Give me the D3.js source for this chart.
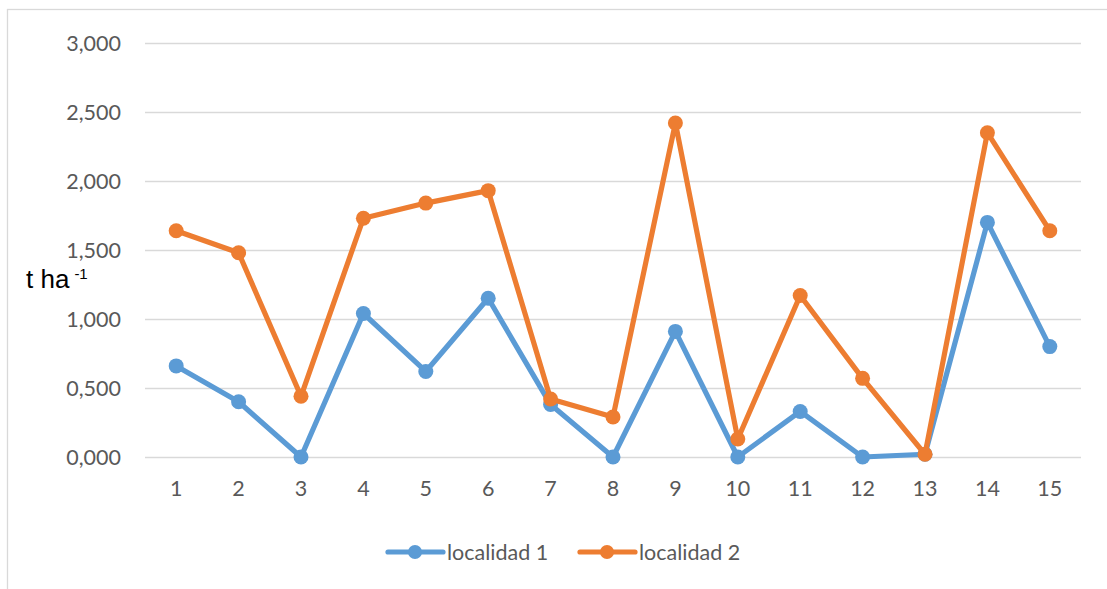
<!DOCTYPE html>
<html>
<head>
<meta charset="utf-8">
<script src="https://cdn.jsdelivr.net/npm/d3@7"></script>
<style>
  html, body { margin: 0; padding: 0; background: #fff; }
  svg { display: block; }
</style>
</head>
<body>
<svg id="chart" width="1107" height="589"></svg>
<script>
// Yield per treatment (t ha-1) at two locations
const categories = ["1","2","3","4","5","6","7","8","9","10","11","12","13","14","15"];
const localidad1 = [0.66, 0.40, 0.00, 1.04, 0.62, 1.15, 0.38, 0.00, 0.91, 0.00, 0.33, 0.00, 0.02, 1.70, 0.80];
const localidad2 = [1.64, 1.48, 0.44, 1.73, 1.84, 1.93, 0.42, 0.29, 2.42, 0.13, 1.17, 0.57, 0.02, 2.35, 1.64];
const yTicks = [0, 0.5, 1, 1.5, 2, 2.5, 3];
const seriesNames = ["localidad 1", "localidad 2"];
const seriesColors = ["#5B9BD5", "#ED7D31"];

const svg = d3.select("#chart");
const W = 1107, H = 589;
const plot = { left: 145, right: 1081, top: 43, bottom: 457 };
const labelFont = "Lato, 'Open Sans', sans-serif";
const labelSize = "21.5px";
const textGray = "#595959";

// chart area frame
svg.append("rect")
  .attr("x", 7.5).attr("y", 9.5)
  .attr("width", W + 10).attr("height", H + 10)
  .attr("fill", "#fff").attr("stroke", "#d9d9d9").attr("stroke-width", 1.3);

const x = d3.scaleBand().domain(categories).range([plot.left, plot.right]);
const y = d3.scaleLinear().domain([0, 3]).range([plot.bottom, plot.top]);
const cx = d => x(d) + x.bandwidth() / 2;

const fmt = v => d3.format(".3f")(v).replace(".", ",");

// horizontal gridlines and y tick labels
const yAxis = d3.axisLeft(y).tickValues(yTicks).tickFormat(fmt)
  .tickSize(-(plot.right - plot.left)).tickPadding(24);
const gy = svg.append("g").attr("transform", `translate(${plot.left},0)`).call(yAxis);
gy.select(".domain").remove();
gy.selectAll(".tick line").attr("stroke", "#d9d9d9").attr("stroke-width", 1.3);
gy.selectAll(".tick text")
  .attr("fill", textGray).style("font-family", labelFont).style("font-size", labelSize)
  .attr("dy", "0.35em");

// x category labels
const xAxis = d3.axisBottom(x).tickSize(0).tickPadding(24);
const gx = svg.append("g").attr("transform", `translate(0,${plot.bottom})`).call(xAxis);
gx.select(".domain").remove();
gx.selectAll(".tick text")
  .attr("fill", textGray).style("font-family", labelFont).style("font-size", labelSize);

// y axis title
const yt = svg.append("text")
  .attr("x", 26).attr("y", 288)
  .attr("fill", "#000")
  .style("font-family", "'Liberation Sans', Arial, sans-serif")
  .style("font-size", "26px");
yt.append("tspan").text("t ha");
yt.append("tspan").attr("dx", 5).attr("dy", -9).style("font-size", "15px").text("-1");

// series lines with markers
const seriesData = [localidad1, localidad2];
const line = d3.line().x((d, i) => cx(categories[i])).y(d => y(d));
seriesData.forEach((vals, s) => {
  const g = svg.append("g");
  g.append("path").datum(vals)
    .attr("d", line)
    .attr("fill", "none")
    .attr("stroke", seriesColors[s])
    .attr("stroke-width", 5.2)
    .attr("stroke-linejoin", "round")
    .attr("stroke-linecap", "round");
  g.selectAll("circle").data(vals).join("circle")
    .attr("cx", (d, i) => cx(categories[i]))
    .attr("cy", d => y(d))
    .attr("r", 7.5)
    .attr("fill", seriesColors[s]);
});

// legend
const legendItems = [{ x0: 388 }, { x0: 580 }];
legendItems.forEach((it, s) => {
  const g = svg.append("g").attr("transform", `translate(${it.x0},552)`);
  g.append("line").attr("x1", 0).attr("x2", 55).attr("y1", 0).attr("y2", 0)
    .attr("stroke", seriesColors[s]).attr("stroke-width", 5.2).attr("stroke-linecap", "round");
  g.append("circle").attr("cx", 27).attr("cy", 0).attr("r", 7).attr("fill", seriesColors[s]);
  g.append("text").attr("x", 59).attr("y", 0).attr("dy", "0.35em")
    .attr("fill", textGray).style("font-family", labelFont).style("font-size", labelSize)
    .text(seriesNames[s]);
});
</script>
</body>
</html>
